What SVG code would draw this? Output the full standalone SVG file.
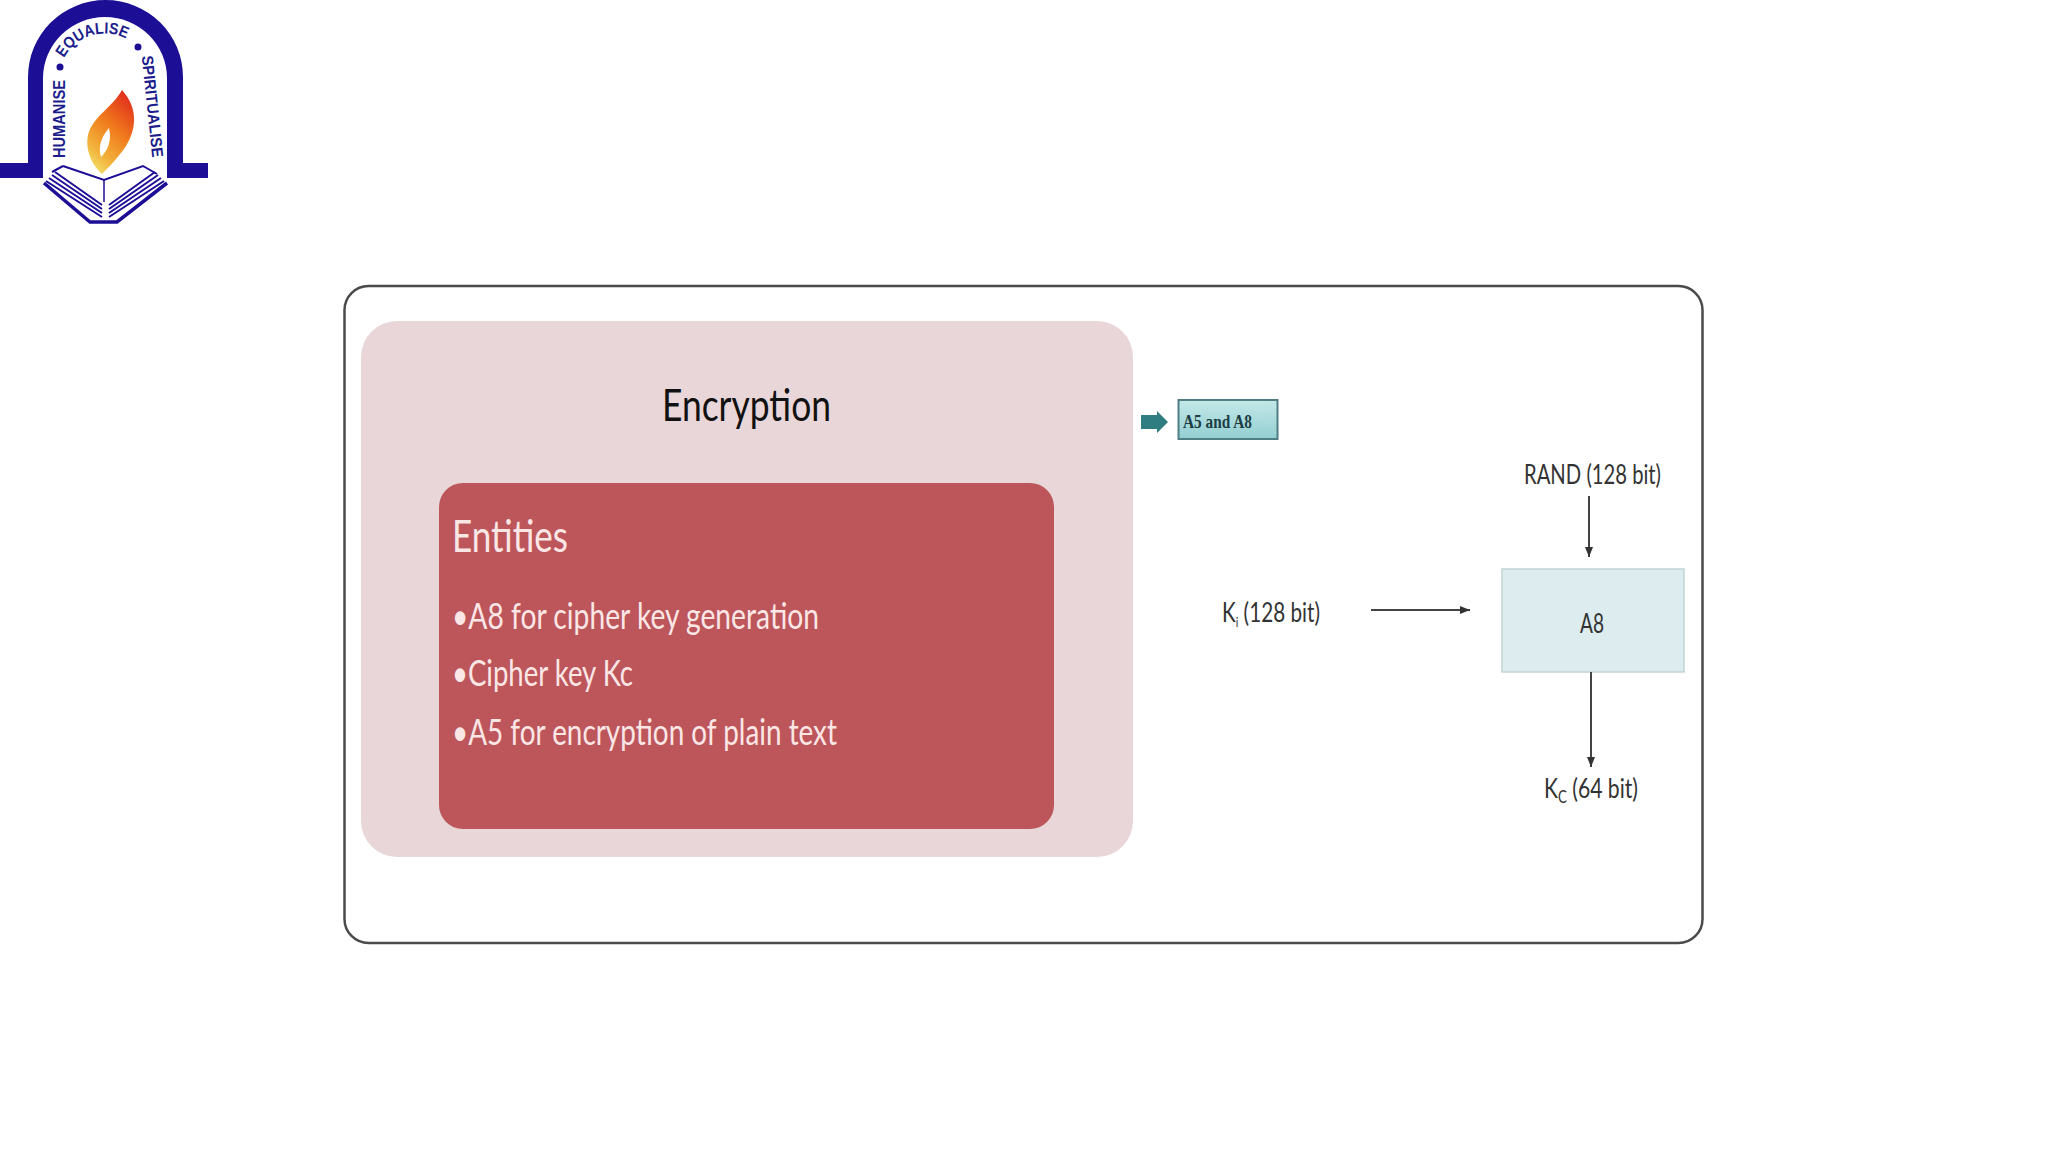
<svg xmlns="http://www.w3.org/2000/svg" width="2048" height="1152" viewBox="0 0 2048 1152">
<style>
.c{font-family:Lato,"Liberation Sans",sans-serif}
.d{fill:#333;font-size:27px}
.w{fill:#fbe6e6;font-size:36px}
.l{font-family:"Liberation Sans",Arial,sans-serif;font-weight:bold;font-size:16px;fill:#1c1c8c}
.cn{stroke:#444;stroke-width:2;fill:none;marker-end:url(#a)}
.bk{stroke:#1c0f96;stroke-width:2;fill:none}
</style>
<defs>
<marker id="a" markerWidth="6" markerHeight="6" refX="5" refY="3" orient="auto"><path d="M0 1L5 3L0 5Z" fill="#333"/></marker>
<linearGradient id="t" x1="0" y1="0" x2="0" y2="1"><stop offset="0" stop-color="#c4e8e8"/><stop offset="1" stop-color="#93cfd2"/></linearGradient>
<linearGradient id="f" x1=".8" y1="0" x2=".3" y2="1"><stop offset="0" stop-color="#e02a1c"/><stop offset=".45" stop-color="#f07a1c"/><stop offset=".8" stop-color="#f2b03a"/><stop offset="1" stop-color="#f2d860"/></linearGradient>
<path id="arc" d="M64 58A46 46 0 0 1 134 44"/>
</defs>
<rect width="2048" height="1152" fill="#fff"/>
<g id="logo">
<path d="M0 178V163H28V77A77.500 77 0 0 1 183 77V163H208V178H167V78A62 61 0 0 0 43 78V178Z" fill="#1c0f96"/>
<text class="l" text-anchor="middle" transform="translate(65 119) rotate(-90)" textLength="78" lengthAdjust="spacingAndGlyphs">HUMANISE</text>
<text class="l" text-anchor="middle" transform="translate(147 107) rotate(84)" textLength="102" lengthAdjust="spacingAndGlyphs">SPIRITUALISE</text>
<text class="l"><textPath href="#arc" textLength="72" lengthAdjust="spacingAndGlyphs">EQUALISE</textPath></text>
<circle cx="60" cy="67" r="3.500" fill="#1c0f96"/><circle cx="138" cy="47" r="3.500" fill="#1c0f96"/>
<path d="M122 90C138 108 137 128 126 146C118 158 108 168 102 174C92 165 85 150 88 135C93 116 112 108 122 90Z" fill="url(#f)"/>
<path d="M109 128C112 140 108 150 101 157C98 147 101 137 109 128Z" fill="#fff"/>
<g class="bk">
<path d="M104 180V202" stroke-width="1.500"/>
<path d="M63 166L104 180L143 166L157 174"/>
<path d="M63 166L52 172"/>
<path d="M55 172L102 205M52 175L102 209M49 178L102 213M46 181L102 217"/>
<path d="M155 172L109 205M158 175L109 209M161 178L109 213M164 181L109 217"/>
<path d="M44 183L90 222H117L167 183" stroke-width="3.500"/>
</g>
</g>
<g id="frame"><rect x="344.500" y="286" width="1358" height="657" rx="24" fill="#fff" stroke="#4a4a4a" stroke-width="2.500"/></g>
<g id="encryption">
<rect x="361" y="321" width="772" height="536" rx="36" fill="#e9d6d8"/>
<text class="c" x="662" y="421" font-size="45" fill="#111" textLength="169" lengthAdjust="spacingAndGlyphs">Encryption</text>
</g>
<g id="entities">
<rect x="439" y="483" width="615" height="346" rx="24" fill="#bd565b"/>
<text class="c w" x="452" y="552" style="font-size:45px" textLength="116" lengthAdjust="spacingAndGlyphs">Entities</text>
<text class="c w" x="452" y="629" textLength="367" lengthAdjust="spacingAndGlyphs">•A8 for cipher key generation</text>
<text class="c w" x="452" y="686" textLength="181" lengthAdjust="spacingAndGlyphs">•Cipher key Kc</text>
<text class="c w" x="452" y="745" textLength="385" lengthAdjust="spacingAndGlyphs">•A5 for encryption of plain text</text>
</g>
<g id="a5a8">
<rect x="1178.500" y="400" width="99" height="39" fill="url(#t)" stroke="#4f7f84" stroke-width="2"/>
<text x="1183" y="428" font-family="'Liberation Serif',serif" font-size="19" font-weight="bold" fill="#1c3d44" textLength="69" lengthAdjust="spacingAndGlyphs">A5 and A8</text>
</g>
<g id="a8">
<rect x="1502" y="569" width="182" height="103" fill="#dcecef" stroke="#c3d3d3" stroke-width="1.500"/>
<text class="c d" x="1580" y="633" textLength="24" lengthAdjust="spacingAndGlyphs">A8</text>
</g>
<g id="labels">
<text class="c d" x="1524" y="484" textLength="137" lengthAdjust="spacingAndGlyphs">RAND (128 bit)</text>
<text class="c d" x="1222" y="622" textLength="98" lengthAdjust="spacingAndGlyphs">K<tspan font-size="14" dy="5">i</tspan><tspan dy="-5"> (128 bit)</tspan></text>
<text class="c d" x="1544" y="798" textLength="94" lengthAdjust="spacingAndGlyphs">K<tspan font-size="17" dy="5">C</tspan><tspan dy="-5"> (64 bit)</tspan></text>
</g>
<g id="connectors">
<path d="M1141 415H1157V411L1168 422L1157 433V429H1141Z" fill="#2f7d80"/>
<path class="cn" d="M1589 496V557"/>
<path class="cn" d="M1371 610H1470"/>
<path class="cn" d="M1591 672V767"/>
</g>
</svg>
